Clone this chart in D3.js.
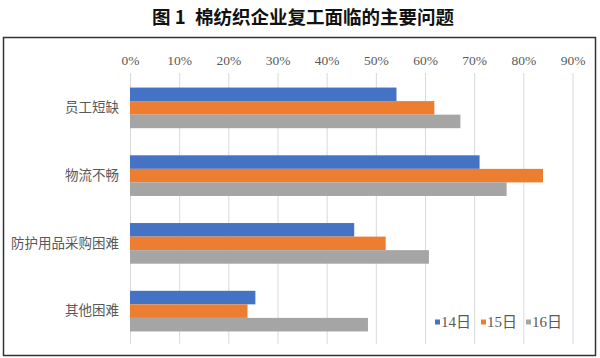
<!DOCTYPE html>
<html><head><meta charset="utf-8">
<script src="https://cdn.jsdelivr.net/npm/d3@7"></script>
<style>body{margin:0;background:#fff}svg{display:block}</style>
</head><body>
<script>
const categories = ["员工短缺", "物流不畅", "防护用品采购困难", "其他困难"];
const seriesNames = ["14日", "15日", "16日"];
const values14 = [54.2, 71.1, 45.6, 25.5];
const values15 = [61.9, 84.0, 52.0, 23.9];
const values16 = [67.2, 76.6, 60.8, 48.4];
const tickValues = [0, 10, 20, 30, 40, 50, 60, 70, 80, 90];
const colors = ["#4472C4", "#ED7D31", "#A5A5A5"];
const title = "图 1\u2002棉纺织企业复工面临的主要问题";

const W = 600, H = 358;
const svg = d3.select("body").append("svg").attr("width", W).attr("height", H);
const series = [values14, values15, values16];

svg.append("text").attr("x", 303).attr("y", 24).attr("text-anchor", "middle")
  .attr("font-family", "'Noto Sans CJK SC'").attr("font-weight", "bold")
  .attr("font-size", 18.5).attr("fill", "#111").text(title);

svg.append("rect").attr("x", 3.5).attr("y", 37.5).attr("width", 592).attr("height", 318)
  .attr("fill", "#fff").attr("stroke", "#333").attr("stroke-width", 1.5);

const x = d3.scaleLinear().domain([0, 90]).range([130, 572.5]);
const y = d3.scaleBand().domain(categories).range([74, 345]).paddingInner(0.4).paddingOuter(0.2);
const y1 = d3.scaleBand().domain(seriesNames).range([0, y.bandwidth()]);

// gridlines
svg.append("g").selectAll("line").data(tickValues).join("line")
  .attr("x1", d => x(d) + 0.5).attr("x2", d => x(d) + 0.5)
  .attr("y1", 73).attr("y2", 344).attr("stroke", "#d9d9d9").attr("stroke-width", 1);

// top axis labels
const ax = svg.append("g").attr("transform", "translate(0,60)")
  .call(d3.axisTop(x).tickValues(tickValues).tickFormat(d => d + "%").tickSize(0));
ax.select(".domain").remove();
ax.selectAll("text").attr("font-family", "'Liberation Serif'").attr("font-size", 13.5)
  .attr("fill", "#595959").attr("dy", "0.35em").attr("y", 0);

// category labels
const ay = svg.append("g").attr("transform", "translate(119,0)")
  .call(d3.axisLeft(y).tickSize(0).tickPadding(0));
ay.select(".domain").remove();
ay.selectAll("text").attr("font-family", "'Noto Sans CJK SC'").attr("font-size", 13.5)
  .attr("fill", "#595959");

// bars
const g = svg.append("g");
categories.forEach((c, i) => {
  series.forEach((s, j) => {
    g.append("rect").attr("x", x(0)).attr("y", y(c) + y1(seriesNames[j]))
      .attr("width", x(s[i]) - x(0)).attr("height", y1.bandwidth())
      .attr("fill", colors[j]);
  });
});

// legend
const legX = [435, 481, 526];
const lg = svg.append("g");
seriesNames.forEach((n, j) => {
  lg.append("rect").attr("x", legX[j]).attr("y", 319.5).attr("width", 5).attr("height", 5).attr("fill", colors[j]);
  lg.append("text").attr("x", legX[j] + 6).attr("y", 322).attr("dy", "0.35em")
    .attr("font-family", "'Liberation Serif', 'Noto Sans CJK SC'").attr("font-size", 15)
    .attr("fill", "#595959").text(n);
});
</script>
</body></html>
